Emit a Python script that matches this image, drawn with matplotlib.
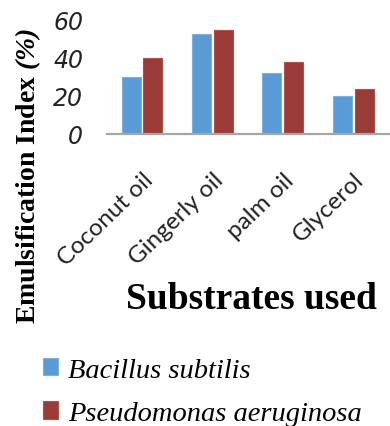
import numpy as np
import matplotlib
matplotlib.use('Agg')
from matplotlib import pyplot as plt

plt.rcParams['mathtext.fontset'] = 'custom'
plt.rcParams['mathtext.bfit'] = 'Liberation Serif:italic:bold'

# emulsification index (%) per substrate
substrates = ['Coconut oil', 'Gingerly oil', 'palm oil', 'Glycerol']
bacillus = [30, 52.5, 32, 20]
pseudomonas = [40, 54.5, 38, 23.5]
yticks = [0, 20, 40, 60]

fig = plt.figure(figsize=(3.9, 4.27), dpi=100)
ax = fig.add_axes([0.274, 0.684, 0.74, 0.267])

x = np.arange(len(substrates))
w = 0.27
ax.bar(x - 0.155, bacillus, w, color='#5B9BD5', edgecolor='#7fb0de', linewidth=0.8,
       label='Bacillus subtilis')
ax.bar(x + 0.155, pseudomonas, w, color='#9B3B38', edgecolor='#b0504c', linewidth=0.8,
       label='Pseudomonas aeruginosa')

ax.set_xlim(-0.5, 3.6)
ax.set_ylim(0, 60)
ax.set_yticks(yticks)
ax.set_yticklabels([str(v) for v in yticks], fontsize=17, style='italic',
                   family='DejaVu Sans', color='#222222')
ax.set_xticks(x)
ax.set_xticklabels(substrates, rotation=44, ha='right', rotation_mode='anchor',
                   fontsize=17.5, family='Lato', color='#222222')
ax.tick_params(axis='y', length=0, pad=17)
ax.tick_params(axis='x', length=0, pad=25)

for s in ['top', 'right', 'left']:
    ax.spines[s].set_visible(False)
ax.spines['bottom'].set_color('#a6a6a6')
ax.spines['bottom'].set_linewidth(1.6)

fig.text(0.072, 0.588, 'Emulsification Index $\\mathbfit{(\\%)}$', rotation=90,
         ha='center', va='center', fontsize=20, fontweight='bold',
         family='Liberation Serif')
fig.text(0.645, 0.298, 'Substrates used', ha='center', va='center',
         fontsize=27, fontweight='bold', family='Liberation Serif')

fig.legend(loc='upper left', bbox_to_anchor=(0.08, 0.187), frameon=False,
           prop={'family': 'Liberation Serif', 'style': 'italic', 'size': 20.5},
           handlelength=0.55, handleheight=0.55, handletextpad=0.35,
           labelspacing=0.65, borderaxespad=0)

fig.savefig('out.png', dpi=100)
